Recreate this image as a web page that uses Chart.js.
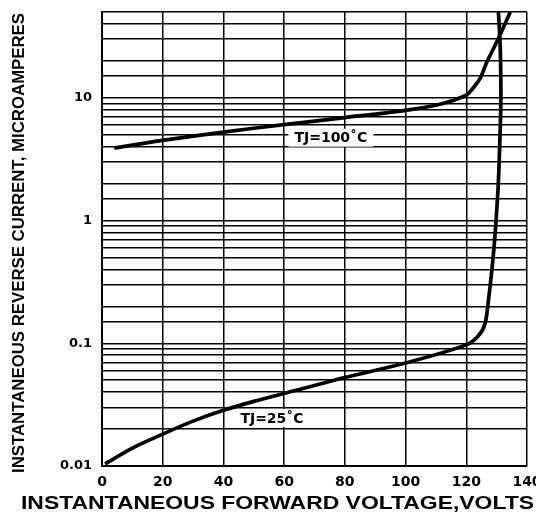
<!DOCTYPE html>
<html>
<head>
<meta charset="utf-8">
<script src="https://cdn.jsdelivr.net/npm/chart.js@4"></script>
<style>
  html, body { margin: 0; padding: 0; background: #fff; }
  #wrap { width: 536px; height: 516px; }
</style>
</head>
<body>
<div id="wrap"><canvas id="c" width="536" height="516"></canvas></div>
<script>
// ---- data ----
const voltage100 = [4, 20, 40, 60, 80, 100, 110, 115, 120, 122, 124.5, 126.7, 128.9, 131.1, 134.5];
const current100 = [3.9, 4.5, 5.25, 6.05, 6.9, 7.9, 8.7, 9.4, 10.5, 11.8, 14.3, 19.4, 25, 32.5, 50];

const voltage25 = [1, 10, 20, 30, 40, 50, 60, 80, 100, 120, 124, 126.2, 127.3, 128.4, 129.4, 130.5, 131.1, 131.4, 131.2, 130.6];
const current25 = [0.0104, 0.014, 0.0182, 0.0232, 0.0284, 0.0336, 0.039, 0.0526, 0.069, 0.097, 0.115, 0.145, 0.224, 0.39, 0.73, 1.9, 4.8, 10, 25, 50];

const xTicks = [0, 20, 40, 60, 80, 100, 120, 140];
const yTickValues = [0.01, 0.1, 1, 10];
const yTickLabels = ['0.01', '0.1', '1', '10'];

const curveLabels = ['TJ=100˚C', 'TJ=25˚C'];
const curveLabelX = [75.4, 56];
const curveLabelY = [4.73, 0.0246];

const xTitle = 'INSTANTANEOUS FORWARD VOLTAGE,VOLTS';
const yTitle = 'INSTANTANEOUS REVERSE CURRENT, MICROAMPERES';

// ---- build ----
function toPoints(xs, ys) { return xs.map((x, i) => ({ x: x, y: ys[i] })); }

const FONT = "'DejaVu Sans', sans-serif";
const TITLE_FONT = "'Liberation Sans', Arial, sans-serif";

const labelPlugin = {
  id: 'curveLabels',
  beforeDatasetsDraw(chart) {
    const ctx = chart.ctx;
    const xs = chart.scales.x, ys = chart.scales.y;
    ctx.save();
    ctx.font = "bold 14px " + FONT;
    ctx.textAlign = 'center';
    ctx.textBaseline = 'middle';
    curveLabels.forEach((t, i) => {
      const px = xs.getPixelForValue(curveLabelX[i]);
      const py = ys.getPixelForValue(curveLabelY[i]);
      const w = ctx.measureText(t).width;
      ctx.fillStyle = '#fff';
      ctx.fillRect(px - w / 2 - 6, py - 9, w + 12, 18);
      ctx.fillStyle = '#000';
      ctx.fillText(t, px, py + 1);
    });
    ctx.restore();
  }
};

// axis titles drawn in a wide (horizontally stretched) bold face like the original
const titlePlugin = {
  id: 'axisTitles',
  afterDraw(chart) {
    const ctx = chart.ctx;
    ctx.save();
    ctx.fillStyle = '#000';
    ctx.textAlign = 'center';
    ctx.textBaseline = 'middle';
    // x title
    ctx.font = "bold 18px " + TITLE_FONT;
    let w = ctx.measureText(xTitle).width;
    ctx.save();
    ctx.translate(277.5, 504);
    ctx.scale(513 / w, 1);
    ctx.fillText(xTitle, 0, 0);
    ctx.restore();
    // y title
    ctx.font = "bold 17px " + TITLE_FONT;
    w = ctx.measureText(yTitle).width;
    ctx.save();
    ctx.translate(19, 243);
    ctx.rotate(-Math.PI / 2);
    ctx.scale(460 / w, 1);
    ctx.fillText(yTitle, 0, 0);
    ctx.restore();
    ctx.restore();
  }
};

new Chart(document.getElementById('c'), {
  type: 'scatter',
  data: {
    datasets: [
      { label: 'TJ=100˚C', data: toPoints(voltage100, current100), showLine: true,
        borderColor: '#000', borderWidth: 3.7, pointRadius: 0, tension: 0.3, fill: false },
      { label: 'TJ=25˚C', data: toPoints(voltage25, current25), showLine: true,
        borderColor: '#000', borderWidth: 3.7, pointRadius: 0, tension: 0.3, fill: false }
    ]
  },
  options: {
    responsive: false,
    animation: false,
    devicePixelRatio: 1,
    layout: { padding: { top: 12, right: 9, left: 0, bottom: 0 } },
    plugins: { legend: { display: false }, tooltip: { enabled: false } },
    scales: {
      x: {
        type: 'linear', min: 0, max: 140,
        afterBuildTicks(s) { s.ticks = xTicks.map(v => ({ value: v })); },
        afterFit(s) { s.height = 50; s.paddingRight = 0; s.paddingLeft = 0; },
        ticks: { color: '#000', padding: 8, maxRotation: 0, autoSkip: false,
                 font: { family: FONT, weight: 'bold', size: 14 } },
        grid: { color: '#000', lineWidth: 1.5, drawTicks: false },
        border: { color: '#000', width: 2 },
        title: { display: false, text: xTitle }
      },
      y: {
        type: 'logarithmic', min: 0.01, max: 50,
        afterFit(s) { s.width = 102; s.paddingTop = 0; s.paddingBottom = 0; },
        ticks: {
          color: '#000', padding: 10, autoSkip: false,
          font: { family: FONT, weight: 'bold', size: 13 },
          callback(v) {
            const i = yTickValues.findIndex(t => Math.abs(t - v) / t < 1e-6);
            return i >= 0 ? yTickLabels[i] : '';
          }
        },
        grid: { color: '#000', lineWidth: 1.5, drawTicks: false },
        border: { color: '#000', width: 2 },
        title: { display: false, text: yTitle }
      }
    }
  },
  plugins: [labelPlugin, titlePlugin]
});
</script>
</body>
</html>
